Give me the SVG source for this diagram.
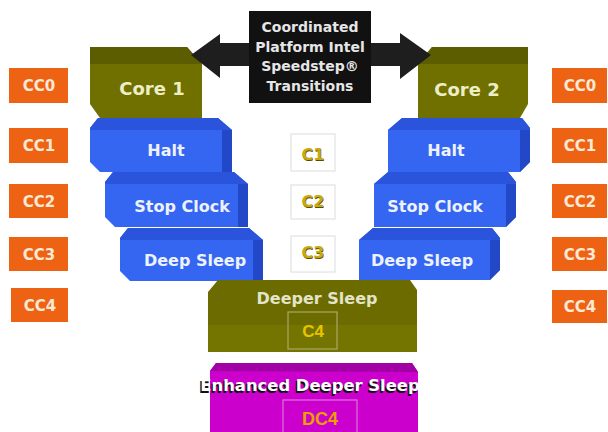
<svg xmlns="http://www.w3.org/2000/svg" width="608" height="432" viewBox="0 0 608 432">
<style>
.cc rect{fill:#ee6214}
.cc text{font-family:"DejaVu Sans",sans-serif;font-weight:bold;font-size:15px;fill:#fbe9d6;text-anchor:middle}
.blk .front{fill:#3466f2}
.blk .top{fill:#2a54dc}
.blk .side{fill:#2248c8}
.bt{font-family:"DejaVu Sans",sans-serif;font-weight:bold;font-size:16px;fill:#eef2ff;text-anchor:middle}
.core .front{fill:#707000}
.core .top{fill:#5c5c00}
.ct{font-family:"DejaVu Sans",sans-serif;font-weight:bold;font-size:18px;fill:#eeeec4;text-anchor:middle}
.cbox rect{fill:#ffffff;stroke:#dcdcdc;stroke-width:1}
.cbox .sh{font-family:"DejaVu Sans",sans-serif;font-weight:bold;font-size:16px;fill:#5a4a00;text-anchor:middle}
.cbox .tx{font-family:"DejaVu Sans",sans-serif;font-weight:bold;font-size:16px;fill:#c8aa10;text-anchor:middle}
.wt{font-family:"DejaVu Sans",sans-serif;font-weight:bold;font-size:14px;fill:#e6e6e6;text-anchor:middle}
</style>

<g id="connectors">
</g>

<!-- Cores -->
<g id="core1" class="core">
<polygon class="front" points="90,47 187,47 202,64 202,118 100,118 90,104"/>
<polygon class="top" points="90,47 187,47 202,64 90,64"/>
<text class="ct" x="152" y="95">Core 1</text>
</g>
<g id="core2" class="core">
<polygon class="front" points="418,64 432,47 528,47 528,104 520,118 418,118"/>
<polygon class="top" points="418,64 432,47 528,47 528,64"/>
<text class="ct" x="467" y="96">Core 2</text>
</g>

<!-- Arrow + label -->
<g id="transition">
<polygon points="191,55 220,34 220,43 400,43 400,33 431,55 400,79 400,66 220,66 220,78" fill="#1e1e1e"/>
<rect x="249" y="11" width="122" height="92" fill="#111111"/>
<text class="wt" x="310" y="32">Coordinated</text>
<text class="wt" x="310" y="52">Platform Intel</text>
<text class="wt" x="310" y="71">Speedstep®</text>
<text class="wt" x="310" y="91">Transitions</text>
</g>

<!-- Left blocks -->
<g id="haltL" class="blk">
<polygon class="front" points="90,128 98,118 218,118 232,130 232,172 100,172 90,162"/>
<polygon class="top" points="90,128 98,118 218,118 232,130 90,130"/>
<polygon class="side" points="222,130 232,130 232,172 222,172"/>
<text class="bt" x="166" y="156">Halt</text>
</g>
<g id="stopL" class="blk">
<polygon class="front" points="105,182 113,172 234,172 248,184 248,227 115,227 105,217"/>
<polygon class="top" points="105,182 113,172 234,172 248,184 105,184"/>
<polygon class="side" points="238,184 248,184 248,227 238,227"/>
<text class="bt" x="182" y="212">Stop Clock</text>
</g>
<g id="deepL" class="blk">
<polygon class="front" points="120,238 128,228 249,228 263,240 263,281 130,281 120,271"/>
<polygon class="top" points="120,238 128,228 249,228 263,240 120,240"/>
<polygon class="side" points="253,240 263,240 263,281 253,281"/>
<text class="bt" x="195" y="266">Deep Sleep</text>
</g>

<!-- Right blocks -->
<g id="haltR" class="blk">
<polygon class="front" points="388,130 402,118 522,118 530,128 530,162 520,172 388,172"/>
<polygon class="top" points="388,130 402,118 522,118 530,128 530,130"/>
<polygon class="side" points="520,130 530,130 530,162 520,172"/>
<text class="bt" x="446" y="156">Halt</text>
</g>
<g id="stopR" class="blk">
<polygon class="front" points="374,184 388,172 508,172 516,182 516,217 506,227 374,227"/>
<polygon class="top" points="374,184 388,172 508,172 516,182 516,184"/>
<polygon class="side" points="506,184 516,184 516,217 506,227"/>
<text class="bt" x="435" y="212">Stop Clock</text>
</g>
<g id="deepR" class="blk">
<polygon class="front" points="359,240 373,228 492,228 500,238 500,270 490,280 359,280"/>
<polygon class="top" points="359,240 373,228 492,228 500,238 500,240"/>
<polygon class="side" points="490,240 500,240 500,270 490,280"/>
<text class="bt" x="422" y="266">Deep Sleep</text>
</g>

<!-- C states -->
<g id="c1" class="cbox"><rect x="291" y="134" width="44" height="37"/><text class="sh" x="313.5" y="161">C1</text><text class="tx" x="313" y="160">C1</text></g>
<g id="c2" class="cbox"><rect x="291" y="185" width="44" height="34"/><text class="sh" x="313.5" y="208">C2</text><text class="tx" x="313" y="207">C2</text></g>
<g id="c3" class="cbox"><rect x="291" y="236" width="44" height="36"/><text class="sh" x="313.5" y="259">C3</text><text class="tx" x="313" y="258">C3</text></g>

<!-- Deeper Sleep -->
<g id="deeper">
<polygon points="208,292 218,280 410,280 417,290 417,352 208,352" fill="#6b6b00"/>
<rect x="208" y="325" width="209" height="27" fill="#747400"/>
<text x="317" y="304" font-family="DejaVu Sans, sans-serif" font-weight="bold" font-size="16" fill="#e4e4c8" text-anchor="middle">Deeper Sleep</text>
<rect x="288" y="312" width="49" height="37" fill="none" stroke="#a8a868" stroke-width="1.2"/>
<text x="313" y="337" font-family="Liberation Sans, sans-serif" font-weight="bold" font-size="17" fill="#e8c400" text-anchor="middle">C4</text>
</g>

<!-- Enhanced Deeper Sleep -->
<g id="enhanced">
<polygon points="210,371 216,363 412,363 418,372 418,432 210,432" fill="#cc00cc"/>
<polygon points="210,371 216,363 412,363 418,372" fill="#a000a4"/>
<text x="308.5" y="392.5" font-family="DejaVu Sans, sans-serif" font-weight="bold" font-size="16.4" fill="#111111" text-anchor="middle">Enhanced Deeper Sleep</text>
<text x="310" y="391" font-family="DejaVu Sans, sans-serif" font-weight="bold" font-size="16.4" fill="#ffffff" text-anchor="middle">Enhanced Deeper Sleep</text>
<rect x="283" y="400" width="74" height="36" fill="none" stroke="#e070e0" stroke-width="1.2"/>
<text x="320" y="425" font-family="Liberation Sans, sans-serif" font-weight="bold" font-size="18" fill="#eaa000" text-anchor="middle">DC4</text>
</g>

<!-- CC labels left -->
<g id="ccL0" class="cc"><rect x="9" y="68" width="59" height="35"/><text x="39" y="91">CC0</text></g>
<g id="ccL1" class="cc"><rect x="9" y="128" width="59" height="35"/><text x="39" y="151">CC1</text></g>
<g id="ccL2" class="cc"><rect x="9" y="184" width="59" height="34"/><text x="39" y="207">CC2</text></g>
<g id="ccL3" class="cc"><rect x="9" y="237" width="59" height="34"/><text x="39" y="260">CC3</text></g>
<g id="ccL4" class="cc"><rect x="11" y="288" width="57" height="34"/><text x="40" y="311">CC4</text></g>

<!-- CC labels right -->
<g id="ccR0" class="cc"><rect x="552" y="68" width="55" height="35"/><text x="580" y="91">CC0</text></g>
<g id="ccR1" class="cc"><rect x="552" y="128" width="55" height="35"/><text x="580" y="151">CC1</text></g>
<g id="ccR2" class="cc"><rect x="552" y="184" width="55" height="34"/><text x="580" y="207">CC2</text></g>
<g id="ccR3" class="cc"><rect x="552" y="237" width="55" height="34"/><text x="580" y="260">CC3</text></g>
<g id="ccR4" class="cc"><rect x="552" y="290" width="55" height="33"/><text x="580" y="312">CC4</text></g>
</svg>
